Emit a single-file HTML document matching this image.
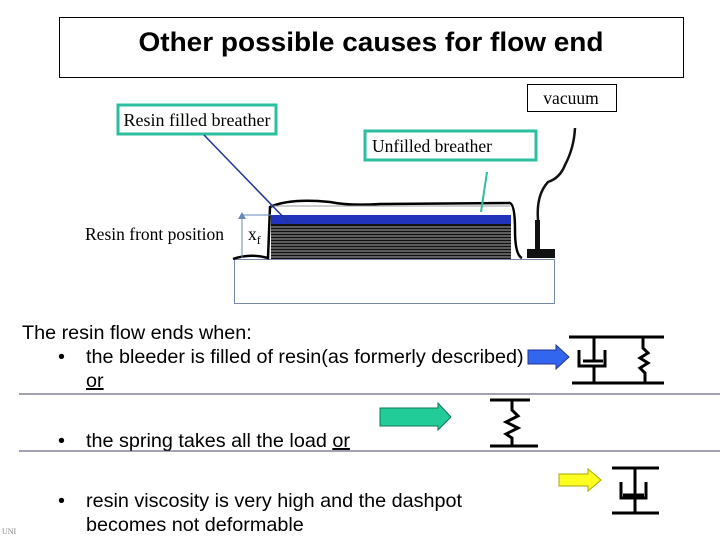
<!DOCTYPE html>
<html><head><meta charset="utf-8"><style>
body{margin:0;background:#fff}
svg{display:block}
.s{font-family:"Liberation Serif",serif;font-size:17.5px}
.a{font-family:"Liberation Sans",sans-serif;font-size:19.8px}
</style></head><body>
<svg width="720" height="540" viewBox="0 0 720 540">
<rect x="59.5" y="17.5" width="624" height="60" fill="#fff" stroke="#000"/>
<text x="371" y="51" text-anchor="middle" font-family="Liberation Sans,sans-serif" font-size="27" font-weight="bold" textLength="465" lengthAdjust="spacingAndGlyphs">Other possible causes for  flow end</text>
<rect x="527.5" y="84.5" width="89" height="27" fill="#fff" stroke="#000"/>
<text x="571" y="104" text-anchor="middle" class="s">vacuum</text>
<rect x="118" y="105" width="158" height="29" fill="#fff" stroke="#2bbf9f" stroke-width="3"/>
<text x="197" y="126" text-anchor="middle" class="s" textLength="147" lengthAdjust="spacingAndGlyphs">Resin filled breather</text>
<rect x="365" y="131" width="171" height="29" fill="#fff" stroke="#2bbf9f" stroke-width="3"/>
<text x="432" y="152" text-anchor="middle" class="s">Unfilled breather</text>
<rect x="234.5" y="259.5" width="320" height="44" fill="#fff" stroke="#7788aa"/>
<path d="M233 259 Q250 253 268 258 L270 207 Q290 198 330 202 Q350 206 380 204 L510 203 Q515 205 515 230 Q515 255 522 258" fill="none" stroke="#000" stroke-width="2.5"/>
<path d="M271 206 L510 206" stroke="#999" stroke-width="1"/>
<rect x="271" y="215" width="240" height="9" fill="#2233bb"/>
<rect x="271" y="224" width="240" height="35" fill="#111"/>
<g stroke="#ddd" stroke-width="0.8">
<line x1="271" y1="227" x2="511" y2="227"/><line x1="271" y1="230" x2="511" y2="230"/><line x1="271" y1="233" x2="511" y2="233"/><line x1="271" y1="236" x2="511" y2="236"/><line x1="271" y1="239" x2="511" y2="239"/><line x1="271" y1="242" x2="511" y2="242"/><line x1="271" y1="245" x2="511" y2="245"/><line x1="271" y1="248" x2="511" y2="248"/><line x1="271" y1="251" x2="511" y2="251"/><line x1="271" y1="254" x2="511" y2="254"/><line x1="271" y1="257" x2="511" y2="257"/>
</g>
<line x1="242" y1="258" x2="242" y2="218" stroke="#6688bb"/>
<polygon points="242,212 238,219 246,219" fill="#6688bb"/>
<line x1="242" y1="215" x2="271" y2="215" stroke="#6688bb"/>
<line x1="204" y1="135" x2="290" y2="224" stroke="#223399" stroke-width="1.5"/>
<line x1="487" y1="172" x2="481" y2="212" stroke="#2bbf9f" stroke-width="2"/>
<rect x="527" y="249" width="28" height="9" fill="#111"/>
<rect x="535" y="220" width="5" height="29" fill="#111"/>
<path d="M538 220 Q536 195 548 182 Q560 178 565 165 Q574 148 575 128" fill="none" stroke="#111" stroke-width="2.5"/>
<text x="85" y="240" class="s">Resin front position</text>
<text x="248" y="240" class="s">x<tspan font-size="12" dy="4">f</tspan></text>
<text x="22" y="339" class="a">The resin flow ends when:</text>
<text x="58" y="363" class="a">•</text><text x="86" y="363" class="a">the bleeder is filled of resin(as formerly described)</text>
<text x="86" y="387" class="a" text-decoration="underline">or</text>
<text x="58" y="447" class="a">•</text><text x="86" y="447" class="a">the spring takes all the load <tspan text-decoration="underline">or</tspan></text>
<text x="58" y="507" class="a">•</text><text x="86" y="507" class="a">resin viscosity is very high and the dashpot</text>
<text x="86" y="531" class="a">becomes not deformable</text>
<line x1="19" y1="394" x2="720" y2="394" stroke="#444466"/>
<line x1="19" y1="451" x2="720" y2="451" stroke="#444466"/>
<text x="2" y="534" font-family="Liberation Serif,serif" font-size="8" fill="#888">UNI</text>
<polygon points="528,350 556,350 556,345 569,357 556,369 556,364 528,364" fill="#3366ee" stroke="#223399"/>
<polygon points="380,408 438,408 438,403 451,417 438,430 438,426 380,426" fill="#22cc99" stroke="#117755"/>
<polygon points="559,474 588,474 588,469 601,480 588,491 588,486 559,486" fill="#ffff22" stroke="#aaaa00"/>
<g stroke="#000" stroke-width="3" fill="none">
<line x1="569" y1="337" x2="664" y2="337"/><line x1="572" y1="383" x2="664" y2="383"/>
<line x1="594" y1="337" x2="594" y2="362"/><line x1="594" y1="367" x2="594" y2="383"/>
<path d="M579 350 L579 366 L605 366 L605 350"/><line x1="583" y1="361" x2="603" y2="361"/>
<path d="M643 337 L643 348 L648 353 L640 358 L648 363 L640 368 L645 373 L645 383"/>
<line x1="490" y1="400" x2="530" y2="400"/><line x1="490" y1="446" x2="538" y2="446"/>
<path d="M512 400 L512 410 L518 416 L506 422 L518 428 L506 434 L512 438 L512 446"/>
<line x1="612" y1="468" x2="659" y2="468"/><line x1="612" y1="513" x2="659" y2="513"/>
<line x1="635" y1="468" x2="635" y2="513"/>
<path d="M621 482 L621 498 L646 498 L646 482"/><line x1="623" y1="495" x2="644" y2="495"/>
</g>
</svg>
</body></html>
